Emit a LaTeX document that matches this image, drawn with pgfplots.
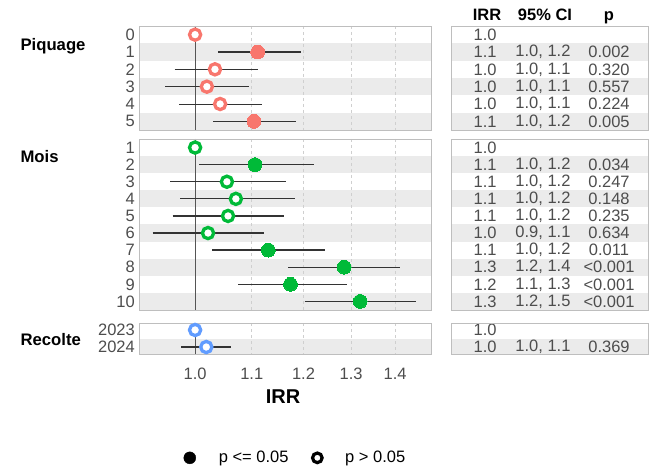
\documentclass[border=0pt]{standalone}
\usepackage{pgfplots}
\pgfplotsset{compat=1.18}
\usepackage{fontspec}
\setmainfont{Liberation Sans}
\definecolor{cred}{HTML}{F8766D}
\definecolor{cgreen}{HTML}{00BA38}
\definecolor{cblue}{HTML}{619CFF}
\definecolor{stripe}{HTML}{EBEBEB}
\definecolor{framec}{HTML}{BEBEBE}
\definecolor{labc}{HTML}{4D4D4D}
\definecolor{gridc}{HTML}{CFCFCF}
\definecolor{refc}{HTML}{555555}
\definecolor{cic}{HTML}{333333}
\newcommand{\fs}{\fontsize{16.5}{18}\selectfont}
\newcommand{\stripe}[2]{\fill[stripe] (axis cs:0.910,#1) rectangle (axis cs:1.487,#2);}
\newcommand{\tstripe}[2]{\fill[stripe] (axis cs:0,#1) rectangle (axis cs:1,#2);}
\newcommand{\vg}[3]{\draw[gridc, dashed, line width=0.7pt] (axis cs:#1,#2) -- (axis cs:#1,#3);}
\newcommand{\grids}[2]{\vg{1.1}{#1}{#2}\vg{1.2}{#1}{#2}\vg{1.3}{#1}{#2}\vg{1.4}{#1}{#2}%
  \draw[refc, line width=1pt] (axis cs:1,#1) -- (axis cs:1,#2);}
\newcommand{\trow}[4]{\node[tt] at (axis cs:0.173,#1) {#2};\node[tt] at (axis cs:0.467,#1) {#3};\node[tt] at (axis cs:0.802,#1) {#4};}
\tikzset{tt/.style={font=\fs, text=labc, inner sep=0pt, anchor=center}}
\pgfplotsset{
 mypanel/.style={scale only axis, width=292pt, xmin=0.910, xmax=1.487, y dir=reverse,
   axis line style={framec, line width=0.8pt}, xtick={1,1.1,1.2,1.3,1.4}, xticklabels={},
   major tick length=0pt, tick style={draw=none},
   yticklabel style={font=\fs, text=labc, anchor=east, inner sep=0pt, xshift=-4pt},
   clip=false, axis on top, anchor=north west},
 mytab/.style={scale only axis, width=197pt, xmin=0, xmax=1, y dir=reverse, xtick=\empty, ytick=\empty,
   axis line style={framec, line width=0.8pt}, clip=false, axis on top, anchor=north west},
 myhollow/.style={only marks, mark=*, mark size=5.6pt, mark options={fill=white, draw=#1, line width=3.3pt}},
 myfilled/.style={only marks, mark=*, mark size=6.9pt, mark options={fill=#1, draw=#1, line width=0pt}},
 cil/.style={cic, line width=1.3pt},
 cit/.style={cic, line width=0.8pt},
}
\begin{document}
\begin{tikzpicture}
\path (0,0) rectangle (656pt,-468pt);
% titles
\node[anchor=base west, font=\fontsize{16.7}{18}\selectfont\bfseries] at (17pt,-50.5pt) {Piquage};
\node[anchor=base west, font=\fontsize{16.7}{18}\selectfont\bfseries] at (17pt,-163pt) {Mois};
\node[anchor=base west, font=\fontsize{16.7}{18}\selectfont\bfseries] at (17pt,-345pt) {Recolte};
\node[anchor=base, font=\fontsize{16.5}{18}\selectfont\bfseries] at (487pt,-20.7pt) {IRR};
\node[anchor=base, font=\fontsize{16.5}{18}\selectfont\bfseries] at (545pt,-20.7pt) {95\% CI};
\node[anchor=base, font=\fontsize{16.5}{18}\selectfont\bfseries] at (609pt,-20.7pt) {p};
\node[anchor=center, font=\fontsize{20}{22}\selectfont\bfseries] at (283pt,-397pt) {IRR};

% Piquage
\begin{axis}[xmode=log, mypanel, at={(139pt,-26pt)}, height=104pt, ymin=-0.5, ymax=5.5, ytick={0,1,2,3,4,5}, yticklabels={0,1,2,3,4,5}]
\stripe{0.5}{1.5}\stripe{2.5}{3.5}\stripe{4.5}{5.5}
\grids{-0.5}{5.5}
\addplot[cil] coordinates {(1.039,1) (1.194,1)};
\addplot[cil] coordinates {(0.966,2) (1.111,2)};
\addplot[cil] coordinates {(0.951,3) (1.095,3)};
\addplot[cit] coordinates {(0.974,4) (1.120,4)};
\addplot[cil] coordinates {(1.031,5) (1.184,5)};
\addplot[myhollow=cred] coordinates {(1,0) (1.034,2) (1.020,3) (1.043,4)};
\addplot[myfilled=cred] coordinates {(1.111,1) (1.104,5)};
\end{axis}

% Mois
\begin{axis}[xmode=log, mypanel, at={(139pt,-139pt)}, height=171pt, ymin=0.5, ymax=10.5, ytick={1,2,3,4,5,6,7,8,9,10}, yticklabels={1,2,3,4,5,6,7,8,9,10}]
\stripe{1.5}{2.5}\stripe{3.5}{4.5}\stripe{5.5}{6.5}\stripe{7.5}{8.5}\stripe{9.5}{10.5}
\grids{0.5}{10.5}
\addplot[cit] coordinates {(1.007,2) (1.222,2)};
\addplot[cit] coordinates {(0.959,3) (1.166,3)};
\addplot[cil] coordinates {(0.975,4) (1.182,4)};
\addplot[cil] coordinates {(0.963,5) (1.162,5)};
\addplot[cil] coordinates {(0.931,6) (1.122,6)};
\addplot[cil] coordinates {(1.029,7) (1.245,7)};
\addplot[cil] coordinates {(1.170,8) (1.412,8)};
\addplot[cit] coordinates {(1.075,9) (1.290,9)};
\addplot[cil] coordinates {(1.202,10) (1.451,10)};
\addplot[myhollow=cgreen] coordinates {(1,1) (1.055,3) (1.071,4) (1.057,5) (1.022,6)};
\addplot[myfilled=cgreen] coordinates {(1.106,2) (1.131,7) (1.285,8) (1.174,9) (1.320,10)};
\end{axis}

% Recolte
\begin{axis}[xmode=log, mypanel, at={(139pt,-323pt)}, height=31pt, ymin=-0.41, ymax=1.41, ytick={0,1}, yticklabels={2023,2024},
  xticklabels={1.0,1.1,1.2,1.3,1.4},
  xticklabel style={font=\fs, text=labc, anchor=north, inner sep=0pt, yshift=-14pt},
  legend style={at={(0.536,-3.35)}, anchor=center, draw=none, fill=none, legend columns=2,
    font=\fs, /tikz/every odd column/.append style={column sep=21pt},
    /tikz/every even column/.append style={column sep=22pt}},
  legend cell align=left]
\addlegendimage{only marks, mark=*, mark size=6pt, black}
\addlegendentry{p <= 0.05}
\addlegendimage{only marks, mark=*, mark size=4.8pt, mark options={fill=white, draw=black, line width=3.2pt}}
\addlegendentry{p > 0.05}
\stripe{0.5}{1.41}
\grids{-0.41}{1.41}
\addplot[cil] coordinates {(0.977,1) (1.062,1)};
\addplot[myhollow=cblue] coordinates {(1,0) (1.019,1)};
\end{axis}

% Tables
\begin{axis}[mytab, at={(451pt,-26pt)}, height=104pt, ymin=-0.5, ymax=5.5]
\tstripe{0.5}{1.5}\tstripe{2.5}{3.5}\tstripe{4.5}{5.5}
\trow{0}{1.0}{}{}
\trow{1}{1.1}{1.0, 1.2}{0.002}
\trow{2}{1.0}{1.0, 1.1}{0.320}
\trow{3}{1.0}{1.0, 1.1}{0.557}
\trow{4}{1.0}{1.0, 1.1}{0.224}
\trow{5}{1.1}{1.0, 1.2}{0.005}
\end{axis}

\begin{axis}[mytab, at={(451pt,-139pt)}, height=171pt, ymin=0.5, ymax=10.5]
\tstripe{1.5}{2.5}\tstripe{3.5}{4.5}\tstripe{5.5}{6.5}\tstripe{7.5}{8.5}\tstripe{9.5}{10.5}
\trow{1}{1.0}{}{}
\trow{2}{1.1}{1.0, 1.2}{0.034}
\trow{3}{1.1}{1.0, 1.2}{0.247}
\trow{4}{1.1}{1.0, 1.2}{0.148}
\trow{5}{1.1}{1.0, 1.2}{0.235}
\trow{6}{1.0}{0.9, 1.1}{0.634}
\trow{7}{1.1}{1.0, 1.2}{0.011}
\trow{8}{1.3}{1.2, 1.4}{<0.001}
\trow{9}{1.2}{1.1, 1.3}{<0.001}
\trow{10}{1.3}{1.2, 1.5}{<0.001}
\end{axis}

\begin{axis}[mytab, at={(451pt,-323pt)}, height=31pt, ymin=-0.41, ymax=1.41]
\tstripe{0.5}{1.41}
\trow{0}{1.0}{}{}
\trow{1}{1.0}{1.0, 1.1}{0.369}
\end{axis}
\end{tikzpicture}
\end{document}
